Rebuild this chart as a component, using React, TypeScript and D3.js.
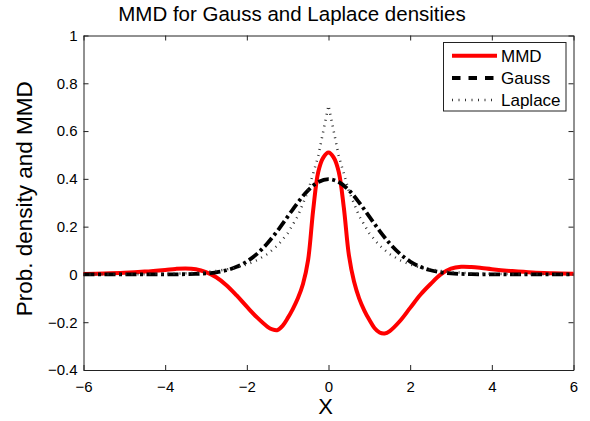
import React, { useEffect, useRef } from "react";
import * as d3 from "d3";

// sample positions along X for the two densities
const xs = [
  -6, -5.75, -5.5, -5.25, -5, -4.75, -4.5, -4.25, -4, -3.75, -3.5, -3.25, -3,
  -2.75, -2.5, -2.25, -2, -1.75, -1.5, -1.25, -1, -0.75, -0.5, -0.25, 0, 0.25,
  0.5, 0.75, 1, 1.25, 1.5, 1.75, 2, 2.25, 2.5, 2.75, 3, 3.25, 3.5, 3.75, 4,
  4.25, 4.5, 4.75, 5, 5.25, 5.5, 5.75, 6,
];

const gauss = [
  0, 0, 0, 0, 0, 0, 0, 0, 0.0001, 0.0004, 0.0009, 0.002, 0.0044, 0.0091,
  0.0175, 0.0317, 0.054, 0.0863, 0.1295, 0.1826, 0.242, 0.3011, 0.3521, 0.3867,
  0.3989, 0.3867, 0.3521, 0.3011, 0.242, 0.1826, 0.1295, 0.0863, 0.054, 0.0317,
  0.0175, 0.0091, 0.0044, 0.002, 0.0009, 0.0004, 0.0001, 0, 0, 0, 0, 0, 0, 0, 0,
];

const laplace = [
  0.0001, 0.0002, 0.0003, 0.0004, 0.0006, 0.0009, 0.0012, 0.0017, 0.0025,
  0.0035, 0.005, 0.0071, 0.0102, 0.0145, 0.0206, 0.0294, 0.0418, 0.0595,
  0.0848, 0.1207, 0.1719, 0.2448, 0.3487, 0.4965, 0.7071, 0.4965, 0.3487,
  0.2448, 0.1719, 0.1207, 0.0848, 0.0595, 0.0418, 0.0294, 0.0206, 0.0145,
  0.0102, 0.0071, 0.005, 0.0035, 0.0025, 0.0017, 0.0012, 0.0009, 0.0006,
  0.0004, 0.0003, 0.0002, 0.0001,
];

// MMD witness, sampled more densely around the centre
const mmdX = [
  -6, -5.5, -5, -4.5, -4, -3.75, -3.5, -3.25, -3, -2.75, -2.5, -2.25, -2, -1.75,
  -1.5, -1.375, -1.25, -1.125, -1, -0.875, -0.75, -0.625, -0.5, -0.375, -0.25,
  -0.125, 0, 0.125, 0.25, 0.375, 0.5, 0.625, 0.75, 0.875, 1, 1.125, 1.25, 1.375,
  1.5, 1.75, 2, 2.25, 2.5, 2.75, 3, 3.25, 3.5, 3.75, 4, 4.5, 5, 5.5, 6,
];
const mmd = [
  0.002, 0.004, 0.007, 0.012, 0.019, 0.023, 0.025, 0.022, 0.01, -0.012, -0.045,
  -0.088, -0.135, -0.18, -0.218, -0.23, -0.233, -0.215, -0.183, -0.145, -0.1,
  -0.04, 0.06, 0.27, 0.43, 0.49, 0.51, 0.49, 0.43, 0.28, 0.08, -0.03, -0.1,
  -0.15, -0.19, -0.224, -0.243, -0.247, -0.237, -0.195, -0.14, -0.085, -0.04,
  0.0, 0.024, 0.032, 0.031, 0.027, 0.022, 0.014, 0.008, 0.005, 0.003,
];

const xTicks = [-6, -4, -2, 0, 2, 4, 6];
const yTicks = [-0.4, -0.2, 0, 0.2, 0.4, 0.6, 0.8, 1];
const legendNames = ["MMD", "Gauss", "Laplace"];

const FONT = "'Liberation Sans', Arial, Helvetica, sans-serif";

const App = () => {
  const svgRef = useRef<SVGSVGElement | null>(null);

  useEffect(() => {
    const svg = d3.select(svgRef.current);
    svg.selectAll("*").remove();

    const width = 590;
    const height = 421;
    const left = 83.5;
    const right = 573.5;
    const top = 35.5;
    const bottom = 370;

    const x = d3.scaleLinear().domain([-6, 6]).range([left, right]);
    const y = d3.scaleLinear().domain([-0.4, 1]).range([bottom, top]);

    svg.append("rect").attr("width", width).attr("height", height).attr("fill", "#fff");

    const fmt = d3.format(".1~f"); // d3 already uses the unicode minus

    // axes with inward ticks on all four sides
    const styleAxis = (g: any) => {
      g.selectAll("path").attr("stroke", "#222").attr("stroke-width", 1).attr("fill", "none");
      g.selectAll("line").attr("stroke", "#222").attr("stroke-width", 1);
      g.selectAll("text").attr("fill", "#000").attr("font-size", 15).attr("font-family", FONT);
    };

    svg.append("g")
      .attr("transform", `translate(0,${bottom})`)
      .call(d3.axisBottom(x).tickValues(xTicks).tickSizeInner(-5).tickSizeOuter(0).tickPadding(11).tickFormat(d3.format("d") as any))
      .call(styleAxis);
    svg.append("g")
      .attr("transform", `translate(0,${top})`)
      .call(d3.axisTop(x).tickValues(xTicks).tickSizeInner(-5).tickSizeOuter(0).tickFormat(() => ""))
      .call(styleAxis);
    svg.append("g")
      .attr("transform", `translate(${left},0)`)
      .call(d3.axisLeft(y).tickValues(yTicks).tickSizeInner(-5).tickSizeOuter(0).tickPadding(6).tickFormat(fmt as any))
      .call(styleAxis);
    svg.append("g")
      .attr("transform", `translate(${right},0)`)
      .call(d3.axisRight(y).tickValues(yTicks).tickSizeInner(-5).tickSizeOuter(0).tickFormat(() => ""))
      .call(styleAxis);

    const pts = (xv: number[], vals: number[]) => xv.map((v, i) => [v, vals[i]] as [number, number]);
    const smooth = d3.line().x((d) => x(d[0])).y((d) => y(d[1])).curve(d3.curveCatmullRom.alpha(0.5));
    const straight = d3.line().x((d) => x(d[0])).y((d) => y(d[1]));

    svg.append("path").attr("d", smooth(pts(mmdX, mmd)))
      .attr("fill", "none").attr("stroke", "#ff0000").attr("stroke-width", 4);
    svg.append("path").attr("d", smooth(pts(xs, gauss)))
      .attr("fill", "none").attr("stroke", "#000").attr("stroke-width", 3.8)
      .attr("stroke-dasharray", "11,3.5,3,3.5");
    svg.append("path").attr("d", straight(pts(xs, laplace)))
      .attr("fill", "none").attr("stroke", "#333").attr("stroke-width", 2.5)
      .attr("stroke-dasharray", "1,5");

    // legend
    const lg = svg.append("g");
    lg.append("rect").attr("x", 443.5).attr("y", 42.5).attr("width", 122.5).attr("height", 68.5)
      .attr("fill", "#fff").attr("stroke", "#222").attr("stroke-width", 1);
    const rowY = [55.7, 78, 100];
    const styles = [
      { stroke: "#ff0000", w: 4, dash: null },
      { stroke: "#000", w: 4, dash: "8.5,8" },
      { stroke: "#333", w: 2.5, dash: "1,5.5" },
    ];
    legendNames.forEach((name, i) => {
      lg.append("line").attr("x1", 452).attr("x2", 497).attr("y1", rowY[i]).attr("y2", rowY[i])
        .attr("stroke", styles[i].stroke).attr("stroke-width", styles[i].w)
        .attr("stroke-dasharray", styles[i].dash);
      lg.append("text").attr("x", 501).attr("y", rowY[i]).attr("dy", "0.36em")
        .attr("font-size", 17).attr("font-family", FONT).text(name);
    });

    // title and axis labels
    svg.append("text").attr("x", 292).attr("y", 21).attr("text-anchor", "middle")
      .attr("font-size", 20.5).attr("font-family", FONT).text("MMD for Gauss and Laplace densities");
    svg.append("text").attr("x", (left + right) / 2 - 3).attr("y", 414).attr("text-anchor", "middle")
      .attr("font-size", 22).attr("font-family", FONT).text("X");
    svg.append("text").attr("transform", `translate(32,${(top + bottom) / 2 - 4}) rotate(-90)`)
      .attr("text-anchor", "middle").attr("font-size", 22.5).attr("font-family", FONT)
      .text("Prob. density and MMD");
  }, []);

  return (
    <svg ref={svgRef} width={590} height={421}
      style={{ position: "absolute", left: 0, top: 0, display: "block" }} />
  );
};

export default App;
